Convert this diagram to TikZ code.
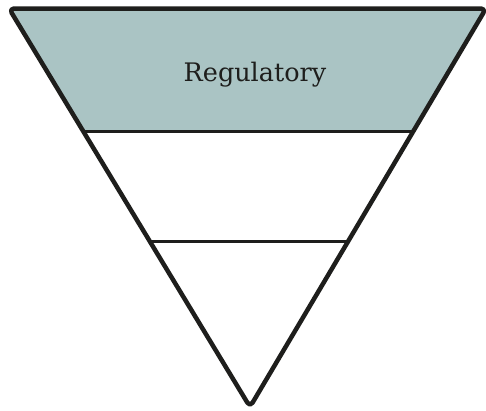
\documentclass[tikz,border=0pt]{standalone}
\usepackage{fontspec}
\setmainfont{DejaVu Serif}
\usetikzlibrary{calc}
\definecolor{bandfill}{RGB}{170,196,196}
\definecolor{ink}{RGB}{30,30,28}
\tikzset{
  outline/.style={draw=ink, line width=4.5pt, line join=round, rounded corners=5pt},
  divider/.style={draw=ink, line width=3pt},
  label/.style={text=ink, font=\fontsize{25.5}{28}\selectfont, inner sep=0pt, anchor=base}
}
\begin{document}
\begin{tikzpicture}[x=1pt,y=-1pt]
\useasboundingbox (0,0) rectangle (486,410);
\coordinate (TL) at (9,8.5);
\coordinate (TR) at (486,8.5);
\coordinate (A) at (250,407);
\coordinate (L1) at ($(TL)!0.3095!(A)$);
\coordinate (R1) at ($(TR)!0.3095!(A)$);
\coordinate (L2) at ($(TL)!0.5847!(A)$);
\coordinate (R2) at ($(TR)!0.5847!(A)$);
\fill[bandfill, rounded corners=5pt] (TL) -- (TR) -- (R1) -- (L1) -- cycle;
\draw[divider] (L1) -- (R1);
\draw[divider] (L2) -- (R2);
\draw[outline] (TL) -- (TR) -- (A) -- cycle;
\node[label] (reg) at (255,81.7) {Regulatory};
\end{tikzpicture}
\end{document}
